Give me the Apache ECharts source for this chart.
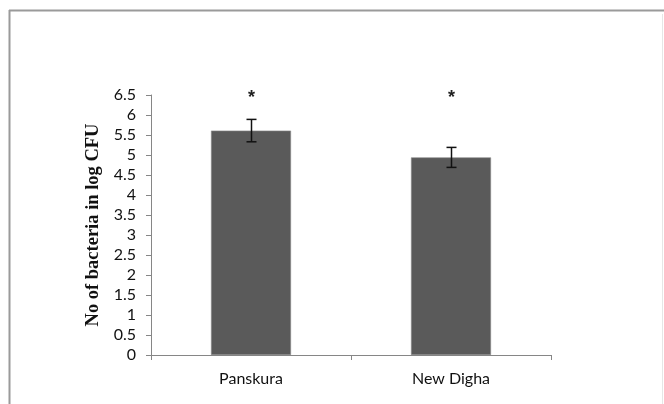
<!DOCTYPE html>
<html>
<head>
<meta charset="utf-8">
<script src="https://cdn.jsdelivr.net/npm/echarts@6/dist/echarts.min.js"></script>
<style>
  html, body { margin: 0; padding: 0; background: #fff; }
  #chart { width: 664px; height: 404px; }
</style>
</head>
<body>
<div id="chart"></div>
<script>
// data
const sites = ['Panskura', 'New Digha'];
const meanLogCfu = [5.61, 4.94];
const errLogCfu = [0.28, 0.25];
const starLevel = [6.5, 6.5];
const yTicks = ['0', '0.5', '1', '1.5', '2', '2.5', '3', '3.5', '4', '4.5', '5', '5.5', '6', '6.5'];

const chart = echarts.init(document.getElementById('chart'));

const option = {
    animation: false,
    backgroundColor: '#fff',
    graphic: [
        // frame of the original figure (top, left, right edges)
        { type: 'line', shape: { x1: 9, y1: 10.5, x2: 664, y2: 10.5 }, style: { stroke: '#9a9a9a', lineWidth: 2 } },
        { type: 'line', shape: { x1: 9.5, y1: 10, x2: 9.5, y2: 404 }, style: { stroke: '#9a9a9a', lineWidth: 2 } },
        { type: 'line', shape: { x1: 662.5, y1: 14, x2: 662.5, y2: 404 }, style: { stroke: '#e6e6e6', lineWidth: 1 } }
    ],
    grid: { left: 151, right: 113, top: 95, bottom: 49 },
    xAxis: {
        type: 'category',
        data: sites,
        axisLine: { lineStyle: { color: '#868686', width: 1 } },
        axisTick: { show: true, length: 5, interval: 0, lineStyle: { color: '#868686' } },
        axisLabel: { color: '#111', fontSize: 16, fontFamily: 'Lato', margin: 16 }
    },
    yAxis: {
        type: 'value',
        min: 0,
        max: 6.5,
        interval: 0.5,
        name: 'No of bacteria in log CFU',
        nameLocation: 'middle',
        nameGap: 42,
        nameTextStyle: { fontFamily: 'Liberation Serif', fontWeight: 'bold', fontSize: 18.5, color: '#111' },
        splitLine: { show: false },
        axisLine: { show: true, lineStyle: { color: '#868686', width: 1 } },
        axisTick: { show: true, length: 5, lineStyle: { color: '#868686' } },
        axisLabel: {
            color: '#111', fontSize: 16, fontFamily: 'Lato', margin: 15,
            formatter: (v) => yTicks[Math.round(v * 2)] ?? String(v)
        }
    },
    series: [
        {
            type: 'bar',
            data: meanLogCfu,
            barWidth: '40%',
            itemStyle: { color: '#5a5a5a', borderColor: '#8a8a8a', borderWidth: 0.6 }
        },
        {
            // error bars
            type: 'custom',
            data: meanLogCfu.map((m, i) => [i, m - errLogCfu[i], m + errLogCfu[i]]),
            renderItem: (params, api) => {
                const lo = api.coord([api.value(0), api.value(1)]);
                const hi = api.coord([api.value(0), api.value(2)]);
                const x = Math.round(lo[0]) + 0.5;
                const hw = 5;
                const st = { stroke: '#111', lineWidth: 1.5 };
                return {
                    type: 'group',
                    children: [
                        { type: 'line', shape: { x1: x, y1: hi[1], x2: x, y2: lo[1] }, style: st },
                        { type: 'line', shape: { x1: x - hw, y1: hi[1], x2: x + hw, y2: hi[1] }, style: st },
                        { type: 'line', shape: { x1: x - hw, y1: lo[1], x2: x + hw, y2: lo[1] }, style: st }
                    ]
                };
            },
            z: 5
        },
        {
            // significance marks
            type: 'custom',
            data: starLevel.map((v, i) => [i, v]),
            renderItem: (params, api) => {
                const p = api.coord([api.value(0), api.value(1)]);
                return {
                    type: 'text',
                    style: {
                        x: p[0] + 0.5, y: p[1] + 3, text: '*',
                        fill: '#222', font: 'bold 18px "Liberation Sans"',
                        align: 'center', verticalAlign: 'middle'
                    }
                };
            },
            z: 5
        }
    ]
};

chart.setOption(option);
</script>
</body>
</html>
